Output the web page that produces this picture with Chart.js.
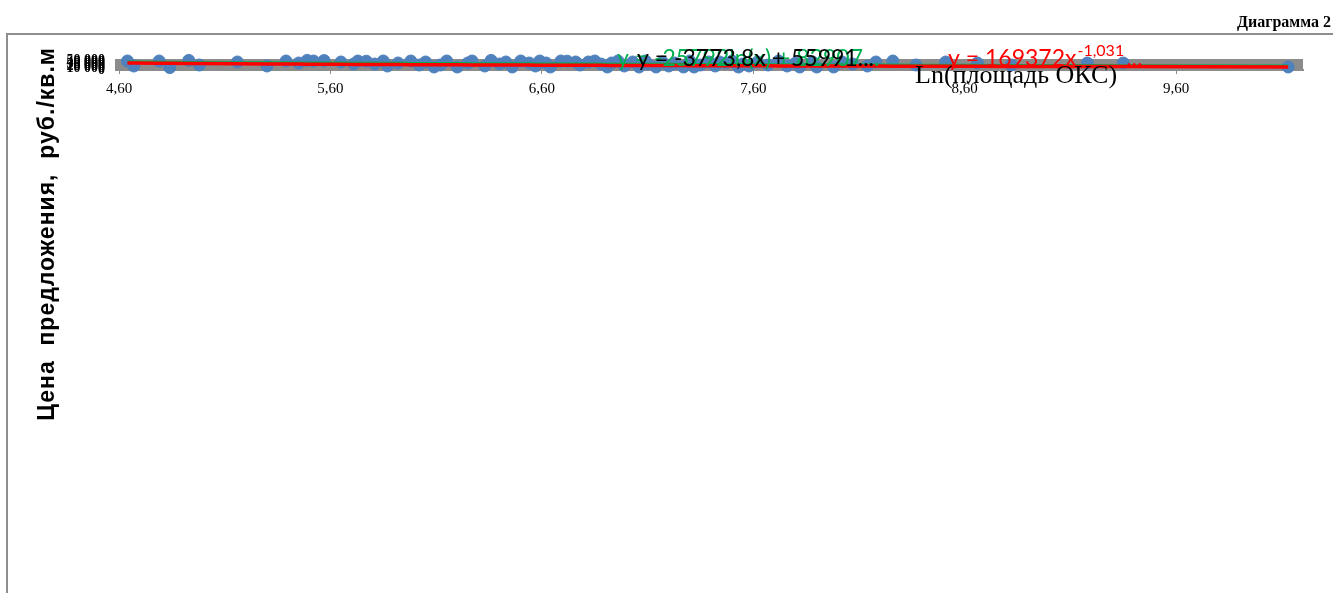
<!DOCTYPE html>
<html>
<head>
<meta charset="utf-8">
<script src="https://cdn.jsdelivr.net/npm/chart.js@4/dist/chart.umd.min.js"></script>
<style>
  html, body { margin: 0; padding: 0; background: #fff; }
  #wrap { position: relative; width: 1333px; height: 593px; }
</style>
</head>
<body>
<div id="wrap"><canvas id="c" width="1333" height="593"></canvas></div>
<script>
// Ln(площадь ОКС) for each offer
const lnArea = [
  4.64, 4.67, 4.79, 4.84, 4.93, 4.98, 5.16, 5.30, 5.39, 5.45,
  5.49, 5.52, 5.57, 5.65, 5.71, 5.73, 5.77, 5.81, 5.85, 5.87,
  5.92, 5.98, 6.02, 6.05, 6.09, 6.12, 6.15, 6.20, 6.25, 6.27,
  6.33, 6.36, 6.40, 6.43, 6.46, 6.50, 6.54, 6.57, 6.59, 6.62,
  6.64, 6.69, 6.72, 6.76, 6.78, 6.82, 6.85, 6.88, 6.91, 6.93,
  6.96, 6.99, 7.03, 7.06, 7.09, 7.10, 7.14, 7.17, 7.20, 7.22,
  7.23, 7.27, 7.30, 7.32, 7.35, 7.39, 7.42, 7.44, 7.47, 7.50,
  7.53, 7.55, 7.58, 7.62, 7.67, 7.72, 7.76, 7.80, 7.82, 7.88,
  7.90, 7.98, 8.02, 8.07, 8.14, 8.18, 8.26, 8.37, 8.51, 8.66,
  8.82, 9.18, 9.35, 10.13
];
// Цена предложения, руб./кв.м
const price = [
  45000, 20000, 45000, 12000, 48000, 25000, 40000, 20000, 45000, 35000,
  48000, 45000, 47000, 40000, 30000, 45000, 44000, 30000, 45000, 20000,
  35000, 45000, 25000, 40000, 15000, 25000, 45000, 15000, 35000, 45000,
  20000, 48000, 30000, 40000, 15000, 45000, 35000, 20000, 45000, 35000,
  15000, 45000, 44000, 40000, 25000, 40000, 45000, 30000, 15000, 35000,
  45000, 20000, 40000, 15000, 45000, 30000, 15000, 40000, 20000, 30000,
  35000, 15000, 45000, 15000, 25000, 40000, 20000, 40000, 35000, 45000,
  15000, 30000, 20000, 40000, 25000, 45000, 20000, 35000, 15000, 40000,
  15000, 15000, 40000, 30000, 20000, 40000, 45000, 25000, 40000, 35000,
  25000, 35000, 35000, 15000
];

const xTicks = [4.6, 5.6, 6.6, 7.6, 8.6, 9.6];
const yTicks = [0, 10000, 20000, 30000, 40000, 50000];

// trend line coefficients (as printed on the chart)
const powerCoef = [169372, -1.031];   // y = a * x^b
const logCoef = [-25792, 82907];      // y = a * ln(x) + b
const linCoef = [-3773.8, 55991];     // y = a * x + b

const GRAY = '#8c8c8c';
const fmtThousands = v => String(v).replace(/\B(?=(\d{3})+(?!\d))/g, ' ');
const fmtComma = v => Number(v).toFixed(2).replace('.', ',');
const fmtNum = v => String(v).replace('.', ',');

const points = lnArea.map((x, i) => ({ x, y: price[i] }));
const powerLine = lnArea.map(x => ({ x, y: powerCoef[0] * Math.pow(x, powerCoef[1]) }));
const logLine = lnArea.map(x => ({ x, y: logCoef[0] * Math.log(x) + logCoef[1] }));

const decorations = {
  id: 'decorations',
  beforeDraw(chart) {
    const ctx = chart.ctx;
    ctx.save();
    ctx.fillStyle = '#fff';
    ctx.fillRect(0, 0, chart.width, chart.height);
    // page frame
    ctx.strokeStyle = '#8e8e8e';
    ctx.lineWidth = 2;
    ctx.beginPath();
    ctx.moveTo(1333, 34);
    ctx.lineTo(7, 34);
    ctx.lineTo(7, 593);
    ctx.stroke();
    // caption
    ctx.fillStyle = '#000';
    ctx.font = 'bold 16px "Liberation Serif"';
    ctx.textAlign = 'right';
    ctx.textBaseline = 'alphabetic';
    ctx.fillText('Диаграмма 2', 1331, 27);
    ctx.restore();
  },
  afterDraw(chart) {
    const ctx = chart.ctx;
    ctx.save();
    ctx.textBaseline = 'alphabetic';
    ctx.textAlign = 'left';

    // trend equations
    ctx.font = '23px Lato';
    ctx.fillStyle = '#00b050';
    ctx.fillText('y = ' + fmtNum(logCoef[0]) + 'ln(x) + ' + fmtNum(logCoef[1]) + '...', 617, 66);
    ctx.fillStyle = '#000';
    ctx.fillText('y = ' + fmtNum(linCoef[0]) + 'x + ' + fmtNum(linCoef[1]) + '...', 637, 66);

    ctx.fillStyle = '#ff0000';
    ctx.font = '23px Lato';
    const main = 'y = ' + powerCoef[0] + 'x';
    ctx.fillText(main, 948, 66);
    const w = ctx.measureText(main).width;
    ctx.font = '16px Lato';
    const sup = fmtNum(powerCoef[1]);
    ctx.fillText(sup, 948 + w + 1, 56);
    const ws = ctx.measureText(sup).width;
    ctx.font = '23px Lato';
    ctx.fillText('...', 948 + w + ws + 3, 66);

    // axis titles
    ctx.fillStyle = '#000';
    ctx.font = '26px "Liberation Serif"';
    ctx.fillText('Ln(площадь ОКС)', 915, 83);

    ctx.translate(48, 234);
    ctx.rotate(-Math.PI / 2);
    ctx.textAlign = 'center';
    ctx.textBaseline = 'middle';
    ctx.font = 'bold 23px "Liberation Sans"';
    ctx.letterSpacing = '1px';
    ctx.fillText('Цена  предложения,  руб./кв.м', 0, 0);
    ctx.restore();
  }
};

new Chart(document.getElementById('c'), {
  type: 'scatter',
  data: {
    datasets: [
      {
        type: 'line',
        data: powerLine,
        borderColor: '#ff0000',
        borderWidth: 3.5,
        pointRadius: 0,
        fill: false,
        clip: false,
        order: 0
      },
      {
        type: 'line',
        data: logLine,
        borderColor: '#00b050',
        borderWidth: 1.5,
        pointRadius: 0,
        fill: false,
        clip: false,
        order: 1
      },
      {
        data: points,
        backgroundColor: '#4f81bd',
        borderColor: '#4f81bd',
        pointRadius: 6,
        pointHoverRadius: 6,
        clip: false,
        order: 2
      }
    ]
  },
  options: {
    responsive: false,
    animation: false,
    devicePixelRatio: 1,
    events: [],
    layout: { padding: { top: 60, right: 30, bottom: 493, left: 0 } },
    plugins: { legend: { display: false }, tooltip: { enabled: false } },
    scales: {
      x: {
        type: 'linear',
        min: 4.6,
        max: 10.2,
        afterBuildTicks: s => { s.ticks = xTicks.map(v => ({ value: v })); },
        afterFit: s => { s.height = 30; },
        ticks: {
          callback: v => fmtComma(v),
          font: { family: 'Liberation Serif', size: 15 },
          color: '#000',
          padding: 6,
          maxRotation: 0,
          autoSkip: false
        },
        grid: { drawOnChartArea: false, tickLength: 4, color: GRAY, lineWidth: 1 },
        border: { color: GRAY, width: 2 }
      },
      y: {
        min: 0,
        max: 50000,
        afterBuildTicks: s => { s.ticks = yTicks.map(v => ({ value: v })); },
        afterFit: s => { s.width = 119; },
        ticks: {
          callback: v => fmtThousands(v),
          font: { family: 'Liberation Serif', size: 14, weight: 'bold' },
          color: '#000',
          padding: 10,
          autoSkip: false
        },
        grid: { color: GRAY, lineWidth: 2, tickLength: 4 },
        border: { color: GRAY, width: 2 }
      }
    }
  },
  plugins: [decorations]
});
</script>
</body>
</html>
